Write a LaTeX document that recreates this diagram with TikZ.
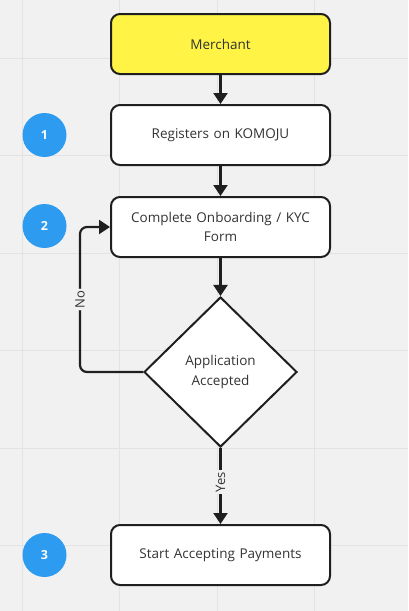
\documentclass[tikz,border=0pt]{standalone}
\usepackage{fontspec}
\setmainfont{Open Sans}
\usetikzlibrary{shapes.geometric,arrows.meta}
\definecolor{kbg}{HTML}{F1F1F1}
\definecolor{kgrid}{HTML}{E3E3E3}
\definecolor{kline}{HTML}{1F1F1F}
\definecolor{ktext}{HTML}{333333}
\definecolor{kyellow}{HTML}{FFF345}
\definecolor{kblue}{HTML}{2D9BF0}
\tikzset{
  box/.style={draw=kline,line width=2pt,rounded corners=9pt,fill=white,minimum width=219pt,minimum height=60pt,text width=205pt,align=center,text=ktext,font=\fontsize{13.5}{19}\selectfont},
  decision/.style={diamond,draw=kline,line width=2pt,fill=white,minimum width=153pt,minimum height=150pt,inner sep=0pt,align=center,text=ktext,font=\fontsize{13.5}{19.5}\selectfont},
  badge/.style={circle,fill=kblue,minimum size=44pt,inner sep=0pt,text=white,font=\fontsize{12.5}{14}\selectfont\bfseries},
  flow/.style={draw=kline,line width=2.2pt,-{Triangle[length=11pt,width=14pt]}},
  lbl/.style={fill=kbg,text=ktext,inner sep=2pt,rotate=90,font=\fontsize{13}{15}\selectfont}
}
\begin{document}
\begin{tikzpicture}[x=1pt,y=-1pt]
\pgfmathsetmacro{\kcx}{220.5}
\pgfmathsetmacro{\kbx}{44.5}
\fill[kbg](0,0) rectangle (408,611);
\useasboundingbox (0,0) rectangle (408,611);
\foreach \kx in {22,119.5,217,314.5}{\draw[kgrid,line width=1pt](\kx,0)--(\kx,611);}
\foreach \ky in {58,155.5,253,350.5,448,545.5}{\draw[kgrid,line width=1pt](0,\ky)--(408,\ky);}
\node[box,fill=kyellow](merchant) at (\kcx,44){Merchant};
\node[box](register) at (\kcx,135){Registers on KOMOJU};
\node[box](onboard) at (\kcx,227){Complete Onboarding / KYC\\Form};
\node[decision](accepted) at (\kcx,372){Application\\Accepted};
\node[box](start) at (\kcx,555){Start Accepting Payments};
\foreach \kn/\ky in {1/135,2/226,3/555}{\node[badge](badge\kn) at (\kbx,\ky){\kn};}
\draw[flow](merchant)--(register);
\draw[flow](register)--(onboard);
\draw[flow](onboard)--(accepted);
\draw[flow,rounded corners=7pt](accepted.west)--++(-63,0)|-node[pos=0.25,lbl]{No}(onboard.west);
\draw[flow](accepted)--node[pos=0.45,lbl]{Yes}(start);
\end{tikzpicture}
\end{document}
